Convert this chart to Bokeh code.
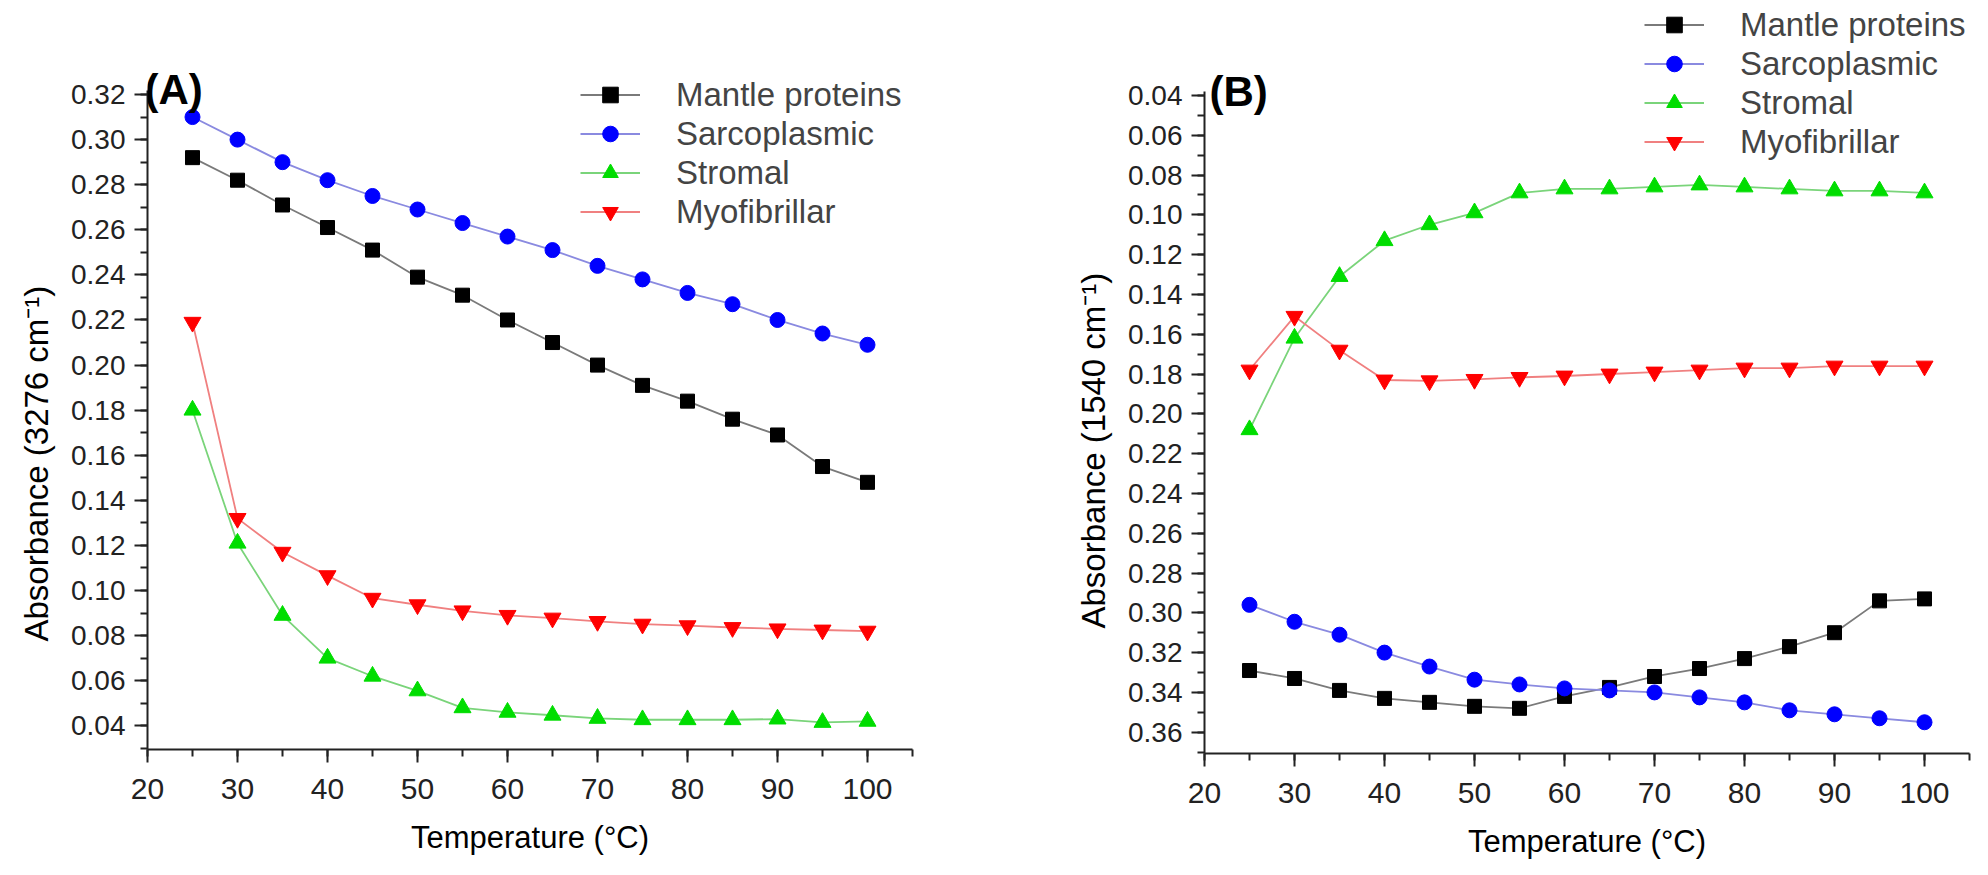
from bokeh.plotting import figure
from bokeh.layouts import row
from bokeh.models import (Range1d, SingleIntervalTicker, PrintfTickFormatter,
                          Legend, LegendItem, Label, Title)
from bokeh.embed import file_html
from bokeh.resources import INLINE

# ---- data ----
temperature = [25, 30, 35, 40, 45, 50, 55, 60, 65, 70, 75, 80, 85, 90, 95, 100]
series_names = ["Mantle proteins", "Sarcoplasmic", "Stromal", "Myofibrillar"]

mantle_A = [0.292, 0.282, 0.271, 0.261, 0.251, 0.239, 0.231, 0.220, 0.210, 0.200,
            0.191, 0.184, 0.176, 0.169, 0.155, 0.148]
sarco_A = [0.310, 0.300, 0.290, 0.282, 0.275, 0.269, 0.263, 0.257, 0.251, 0.244,
           0.238, 0.232, 0.227, 0.220, 0.214, 0.209]
stromal_A = [0.180, 0.121, 0.089, 0.070, 0.062, 0.0555, 0.048, 0.046, 0.0447, 0.0433,
             0.0427, 0.0427, 0.0427, 0.043, 0.0415, 0.042]
myo_A = [0.219, 0.132, 0.117, 0.1066, 0.0966, 0.0937, 0.091, 0.089, 0.0878, 0.0863,
         0.0851, 0.0844, 0.0836, 0.083, 0.0825, 0.082]

mantle_B = [0.329, 0.333, 0.339, 0.343, 0.345, 0.347, 0.348, 0.342, 0.3375, 0.332,
            0.328, 0.323, 0.317, 0.310, 0.294, 0.293]
sarco_B = [0.296, 0.3045, 0.311, 0.320, 0.327, 0.3336, 0.336, 0.338, 0.339, 0.340,
           0.3425, 0.345, 0.349, 0.351, 0.353, 0.355]
stromal_B = [0.208, 0.162, 0.131, 0.113, 0.105, 0.099, 0.089, 0.087, 0.087, 0.086,
             0.085, 0.086, 0.087, 0.088, 0.088, 0.089]
myo_B = [0.178, 0.151, 0.168, 0.183, 0.1834, 0.1827, 0.1817, 0.181, 0.180, 0.179,
         0.178, 0.177, 0.177, 0.176, 0.176, 0.176]

# ---- styles ----
FONT = "Liberation Sans"
markers = ["square", "circle", "triangle", "inverted_triangle"]
marker_colors = ["#000000", "#0000ff", "#00dd00", "#ff0000"]
line_colors = ["#7a7a7a", "#8a8ae0", "#7ad47a", "#f08080"]
marker_sizes = [14, 15, 17, 17]


def make_panel(tag, ylabel, series, y_range, y_bounds, frame_h, borders,
               legend_loc, tag_pos, title_offset):
    left, right, top, bottom = borders
    p = figure(frame_width=765, frame_height=frame_h,
               x_range=Range1d(20, 105), y_range=y_range,
               min_border_left=left, min_border_right=right,
               min_border_top=top, min_border_bottom=bottom,
               output_backend="svg", toolbar_location=None)
    p.outline_line_color = None
    p.xgrid.visible = False
    p.ygrid.visible = False
    p.background_fill_color = "white"

    items = []
    for name, ys, mk, mc, lc, ms in zip(series_names, series, markers,
                                        marker_colors, line_colors, marker_sizes):
        l = p.line(temperature, ys, line_color=lc, line_width=1.8)
        s = p.scatter(temperature, ys, marker=mk, size=ms, fill_color=mc,
                      line_color=mc)
        items.append(LegendItem(label=name, renderers=[l, s]))

    legend = Legend(items=items, location=legend_loc, padding=0, margin=0,
                    spacing=0, label_height=39, glyph_height=39,
                    glyph_width=60, label_standoff=36,
                    label_text_font=FONT, label_text_font_size="33px",
                    border_line_alpha=0, background_fill_alpha=0)
    p.add_layout(legend, "center")

    p.xaxis.ticker = SingleIntervalTicker(interval=10, num_minor_ticks=2)
    p.yaxis.ticker = SingleIntervalTicker(interval=0.02, num_minor_ticks=2)
    p.yaxis.formatter = PrintfTickFormatter(format="%.2f")
    p.xaxis.bounds = (20, 105)
    p.yaxis.bounds = y_bounds
    p.xaxis.axis_label = "Temperature (°C)"
    for ax in (p.xaxis[0], p.yaxis[0]):
        ax.axis_line_color = "#222222"
        ax.axis_line_width = 2
        ax.major_tick_line_color = "#222222"
        ax.major_tick_line_width = 2
        ax.minor_tick_line_color = "#222222"
        ax.minor_tick_line_width = 2
        ax.major_tick_in = 0
        ax.major_tick_out = 13
        ax.minor_tick_in = 0
        ax.minor_tick_out = 7
        ax.major_label_text_font = FONT
        ax.major_label_text_color = "#222222"
        ax.axis_label_text_font = FONT
        ax.axis_label_text_font_size = "31px"
        ax.axis_label_text_font_style = "normal"
        ax.axis_label_text_color = "#000000"
    p.xaxis.major_label_text_font_size = "30px"
    p.yaxis.major_label_text_font_size = "28px"
    p.xaxis.major_label_standoff = 16
    p.yaxis.major_label_standoff = 9
    p.xaxis.axis_label_standoff = 18

    # y-axis title, placed along the axis like the reference
    p.add_layout(Title(text=ylabel, align="left", offset=title_offset,
                       text_font=FONT, text_font_size="33px",
                       text_font_style="normal", text_color="#000000",
                       standoff=28), "left")

    p.add_layout(Label(x=tag_pos[0], y=tag_pos[1], x_units="screen",
                       y_units="screen", text=tag, text_font=FONT,
                       text_font_size="42px", text_font_style="bold",
                       text_color="#000000", text_baseline="alphabetic"))
    return p


pA = make_panel("(A)", "Absorbance (3276 cm⁻¹)",
                [mantle_A, sarco_A, stromal_A, myo_A],
                Range1d(0.0295, 0.3617), (0.0295, 0.322), 749,
                (147, 88, 0, 110), (433, 518), (-3, 660), 108)
pB = make_panel("(B)", "Absorbance (1540 cm⁻¹)",
                [mantle_B, sarco_B, stromal_B, myo_B],
                Range1d(0.3707, -0.0077), (0.038, 0.3707), 753,
                (204, 3, 0, 106), (440, 592), (5, 662), 125)

layout = row(pA, pB)
open("out.html", "w").write(file_html(layout, INLINE))
